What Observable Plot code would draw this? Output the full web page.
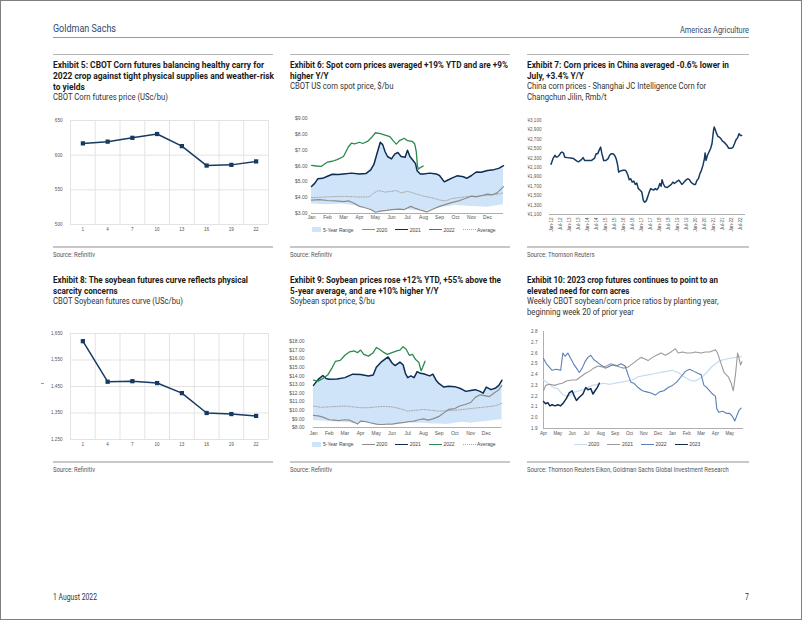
<!DOCTYPE html>
<html><head><meta charset="utf-8">
<script src="https://cdn.jsdelivr.net/npm/d3@7"></script>
<script src="https://cdn.jsdelivr.net/npm/@observablehq/plot@0.6"></script>
<style>
body{margin:0;width:802px;height:620px;position:relative;overflow:hidden;background:#fff;font-family:Roboto,"Liberation Sans",sans-serif;}
.frame{position:absolute;left:0;top:0;width:800px;height:618px;border:1px solid #7f7f7f;}
.abs{position:absolute;}
.inner{display:inline-block;transform-origin:0 0;}
.inner > div{white-space:nowrap;}
.title{font-weight:bold;font-size:9.6px;line-height:11.2px;color:#1b1b1b;}
.sub{font-weight:normal;font-size:9px;line-height:11.2px;color:#333;}
.src{font-size:7px;line-height:9px;color:#555;}
.rule{position:absolute;height:2px;background:#c8c8c8;}
.legend{position:absolute;display:flex;align-items:center;justify-content:center;font-family:"Liberation Sans",Arial,sans-serif;font-size:5px;color:#444;white-space:nowrap;height:8px;}
.legend .it{display:flex;align-items:center;margin:0 4px;}
.legend .sw{display:inline-block;width:13px;margin-right:1.5px;}
</style></head>
<body>
<div class="frame"></div>
<div id="page"></div>
<script>
// ---------------- DATA ----------------
const headerLeft = "Goldman Sachs";
const headerRight = "Americas Agriculture";
const footerLeft = "1 August 2022";
const footerRight = "7";

// Exhibit 5 & 8: futures curves (contract number)
const futTicks = ["1","4","7","10","13","16","19","22"];
const cornFutures = [617, 619.5, 625, 630.5, 613, 585, 586, 591];
const soyFutures = [1621, 1468, 1470, 1463, 1425, 1350, 1346, 1339];

// Exhibit 6: CBOT US corn spot price ($/bu), x = month offset from Jan 1
const monthTicksJan = ["Jan","Feb","Mar","Apr","May","Jun","Jul","Aug","Sep","Oct","Nov","Dec"];
const corn2020 = [[0,3.85],[0.5,3.88],[1.0,3.82],[1.5,3.8],[2.0,3.75],[2.3,3.8],[2.6,3.68],[3.0,3.45],[3.3,3.38],[3.7,3.25],[4.0,3.08],[4.3,3.15],[4.7,3.2],[5.0,3.25],[5.5,3.28],[5.8,3.25],[6.2,3.45],[6.5,3.32],[6.8,3.22],[7.2,3.1],[7.6,3.28],[8.0,3.45],[8.4,3.58],[8.8,3.7],[9.2,3.8],[9.6,3.95],[10.0,4.1],[10.3,4.05],[10.7,4.15],[11.0,4.22],[11.3,4.18],[11.6,4.3],[12.0,4.7]];
const corn2021 = [[0,4.71],[0.2,4.9],[0.4,5.2],[0.7,5.22],[1.0,5.35],[1.3,5.48],[1.7,5.47],[2.0,5.5],[2.5,5.55],[3.0,5.5],[3.4,5.52],[3.7,5.75],[3.9,6.1],[4.1,6.8],[4.3,7.5],[4.45,7.35],[4.6,6.9],[4.75,6.6],[5.0,6.45],[5.2,6.75],[5.4,6.85],[5.6,6.6],[5.85,6.55],[6.0,7.0],[6.15,6.6],[6.35,6.35],[6.5,6.15],[6.6,5.7],[6.8,5.5],[7.0,5.5],[7.4,5.55],[7.8,5.5],[8.0,5.4],[8.3,5.0],[8.5,5.1],[8.8,5.25],[9.1,5.38],[9.5,5.32],[9.7,5.22],[10.0,5.4],[10.3,5.62],[10.6,5.6],[11.0,5.72],[11.4,5.77],[11.7,5.85],[12.0,6.02]];
const corn2022 = [[0,6.04],[0.3,6.0],[0.6,5.97],[1.0,6.25],[1.3,6.3],[1.6,6.4],[2.0,6.6],[2.3,7.2],[2.5,7.45],[2.7,7.4],[3.0,7.5],[3.2,7.42],[3.5,7.55],[3.8,7.85],[4.0,8.1],[4.3,8.05],[4.6,7.95],[4.9,7.85],[5.1,7.6],[5.3,7.38],[5.5,7.6],[5.8,7.75],[6.0,7.6],[6.3,7.55],[6.45,7.4],[6.55,6.9],[6.62,6.0],[6.68,5.8],[6.8,5.9],[6.98,6.0]];
const cornAvg = [[0,4.0],[1,4.05],[2,4.08],[3,4.04],[3.6,4.05],[3.9,4.3],[4.2,4.45],[4.6,4.35],[5.0,4.4],[5.3,4.45],[5.6,4.3],[6.0,4.4],[6.5,4.25],[7,4.1],[7.5,4.0],[8,3.85],[8.4,3.8],[8.8,3.95],[9.2,4.0],[9.6,4.05],[10,4.08],[10.5,4.1],[11,4.15],[11.5,4.2],[12,4.3]];
const corn5yLow = [[0,3.6],[1,3.55],[2,3.6],[3,3.45],[3.6,3.3],[4,3.08],[5,3.22],[6,3.25],[7,3.12],[7.5,3.25],[8.2,3.4],[9,3.5],[10,3.45],[11,3.4],[12,3.55]];
const corn5yHigh = corn2021; // upper edge of the 5-year range coincides with 2021

// Exhibit 7: China corn price (Rmb/t)
const chinaTicks = ["Jan-12","Jul-12","Jan-13","Jul-13","Jan-14","Jul-14","Jan-15","Jul-15","Jan-16","Jul-16","Jan-17","Jul-17","Jan-18","Jul-18","Jan-19","Jul-19","Jan-20","Jul-20","Jan-21","Jul-21","Jan-22","Jul-22"];
const chinaYTicks = [1100,1300,1500,1700,1900,2100,2300,2500,2700,2900,3100];
const chinaCorn = [["2012-01-01",2170],["2012-02-15",2300],["2012-03-20",2360],["2012-04-15",2320],["2012-05-15",2330],["2012-06-15",2360],["2012-07-15",2410],["2012-08-10",2430],["2012-09-10",2405],["2012-10-05",2320],["2012-12-01",2310],["2013-02-01",2300],["2013-04-01",2290],["2013-06-01",2240],["2013-07-10",2220],["2013-09-01",2260],["2013-10-10",2310],["2013-11-10",2250],["2014-01-01",2250],["2014-04-01",2250],["2014-06-01",2300],["2014-07-01",2390],["2014-08-01",2390],["2014-09-01",2470],["2014-10-01",2535],["2014-10-25",2400],["2014-12-01",2250],["2015-01-15",2250],["2015-03-01",2290],["2015-04-01",2360],["2015-05-01",2390],["2015-06-10",2390],["2015-07-10",2360],["2015-08-10",2290],["2015-09-05",2180],["2015-10-01",2000],["2015-11-01",2025],["2016-01-01",2040],["2016-02-15",2040],["2016-03-10",2000],["2016-04-05",1935],["2016-05-01",1840],["2016-06-01",1860],["2016-07-01",1790],["2016-08-01",1810],["2016-09-01",1740],["2016-10-01",1770],["2016-11-01",1650],["2016-12-10",1615],["2017-01-10",1580],["2017-02-10",1400],["2017-03-10",1360],["2017-04-10",1390],["2017-05-10",1475],["2017-06-10",1580],["2017-07-10",1650],["2017-08-10",1630],["2017-09-10",1620],["2017-10-10",1650],["2017-11-10",1625],["2017-12-10",1665],["2018-01-10",1760],["2018-02-05",1700],["2018-02-25",1840],["2018-03-20",1760],["2018-04-20",1690],["2018-06-10",1675],["2018-07-10",1700],["2018-09-01",1740],["2018-10-01",1790],["2018-11-01",1760],["2019-01-01",1810],["2019-02-01",1830],["2019-03-01",1790],["2019-04-01",1740],["2019-05-01",1770],["2019-06-01",1810],["2019-07-01",1840],["2019-08-01",1860],["2019-09-01",1840],["2019-10-01",1790],["2019-11-01",1760],["2019-12-01",1740],["2020-01-01",1740],["2020-02-01",1830],["2020-03-01",1860],["2020-04-01",1970],["2020-05-01",2040],["2020-06-01",2145],["2020-07-01",2290],["2020-07-15",2410],["2020-08-01",2250],["2020-09-01",2360],["2020-10-01",2430],["2020-11-01",2500],["2020-12-01",2605],["2021-01-01",2890],["2021-01-15",2960],["2021-02-10",2890],["2021-03-05",2820],["2021-04-01",2760],["2021-05-01",2745],["2021-06-01",2710],["2021-07-01",2660],["2021-08-01",2640],["2021-09-01",2605],["2021-10-01",2570],["2021-11-01",2510],["2021-12-01",2510],["2022-01-01",2510],["2022-02-01",2535],["2022-03-01",2605],["2022-04-01",2690],["2022-05-01",2730],["2022-06-01",2820],["2022-07-01",2780],["2022-07-25",2780]];

// Exhibit 9: Soybean spot price ($/bu)
const soy2020 = [[0,9.4],[0.3,9.35],[0.6,9.2],[1.0,8.9],[1.3,8.85],[1.6,8.8],[2.0,8.9],[2.3,8.85],[2.6,8.6],[2.8,8.4],[3.0,8.75],[3.3,8.7],[3.6,8.55],[4.0,8.4],[4.3,8.35],[4.7,8.4],[5.0,8.4],[5.4,8.5],[5.8,8.6],[6.1,8.7],[6.4,8.75],[6.7,8.9],[7.0,9.0],[7.3,8.85],[7.6,9.0],[8.0,9.3],[8.3,9.7],[8.6,10.1],[9.0,10.2],[9.3,10.5],[9.7,10.7],[10.0,10.9],[10.3,11.5],[10.6,11.8],[10.9,11.7],[11.2,11.6],[11.5,12.0],[11.8,12.4],[12.0,12.9]];
const soy2021 = [[0,12.9],[0.3,13.6],[0.6,14.05],[0.8,13.7],[1.0,13.6],[1.5,13.65],[2.0,13.8],[2.5,14.2],[3.0,14.15],[3.5,14.0],[3.8,14.1],[4.0,15.0],[4.3,15.6],[4.6,16.0],[4.75,16.2],[5.0,15.5],[5.2,15.2],[5.5,15.6],[5.7,15.3],[5.85,14.3],[6.0,13.8],[6.2,14.0],[6.4,13.8],[6.6,14.5],[6.8,14.3],[7.0,14.25],[7.4,14.0],[7.6,14.2],[7.8,13.5],[8.0,13.1],[8.3,12.7],[8.6,12.8],[9.0,12.75],[9.4,12.5],[9.7,12.2],[10.0,12.3],[10.3,12.4],[10.6,12.2],[10.8,12.0],[11.0,12.7],[11.3,12.4],[11.6,12.6],[11.8,12.9],[12.0,13.5]];
const soy2022 = [[0,13.5],[0.3,13.4],[0.6,13.7],[0.9,14.1],[1.2,15.0],[1.4,15.7],[1.7,15.8],[2.0,16.4],[2.3,16.8],[2.6,16.9],[2.8,16.7],[3.0,17.0],[3.2,16.5],[3.5,16.3],[3.8,16.7],[4.0,17.3],[4.2,17.1],[4.5,16.7],[4.7,16.5],[5.0,16.7],[5.3,16.9],[5.5,17.0],[5.7,17.4],[5.9,17.1],[6.1,16.4],[6.3,16.5],[6.5,15.9],[6.7,15.6],[6.85,14.6],[6.95,15.0],[7.1,15.7]];
const soyAvg = [[0,10.5],[0.5,10.35],[1.0,10.4],[1.5,10.45],[2.0,10.5],[2.5,10.4],[3.0,10.3],[3.5,10.3],[4.0,10.4],[4.5,10.45],[5.0,10.4],[5.5,10.2],[6.0,9.9],[6.5,10.0],[7.0,10.1],[7.5,10.0],[8.0,9.9],[8.5,9.95],[9.0,10.0],[9.5,10.1],[10.0,10.2],[10.5,10.3],[11.0,10.4],[11.5,10.5],[12.0,10.8]];
const soy5yLow = [[0,8.8],[1,8.7],[2,8.6],[2.8,8.4],[3,8.6],[4,8.35],[5,8.4],[6,8.5],[7,8.5],[7.5,8.4],[8,8.4],[8.5,8.35],[9,8.5],[9.5,8.6],[10,8.5],[10.5,8.6],[11,8.7],[11.5,8.8],[12,8.9]];
const soy5yHigh = soy2021;

// Exhibit 10: soybean/corn ratio, x = month offset from Apr 1 of prior year
const monthTicksApr = ["Apr","May","Jun","Jul","Aug","Sep","Oct","Nov","Dec","Jan","Feb","Mar","Apr","May"];
const ratio2020 = [[0,2.35],[0.3,2.32],[0.7,2.28],[1.0,2.27],[1.3,2.22],[1.6,2.2],[1.9,2.21],[2.2,2.24],[2.5,2.25],[2.8,2.26],[3.1,2.28],[3.4,2.3],[3.8,2.31],[4.2,2.32],[4.6,2.31],[5.0,2.32],[5.4,2.33],[5.8,2.34],[6.2,2.35],[6.6,2.38],[7.0,2.39],[7.4,2.4],[7.8,2.41],[8.2,2.42],[8.6,2.43],[9.0,2.44],[9.4,2.42],[9.8,2.38],[10.2,2.35],[10.6,2.34],[11.0,2.37],[11.4,2.42],[11.8,2.48],[12.2,2.52],[12.6,2.54],[13.0,2.55],[13.4,2.56],[13.8,2.57]];
const ratio2021 = [[0,2.25],[0.15,2.3],[0.4,2.31],[0.8,2.3],[1.0,2.31],[1.3,2.32],[1.6,2.34],[2.0,2.35],[2.3,2.35],[2.6,2.38],[2.9,2.41],[3.2,2.43],[3.5,2.46],[3.8,2.48],[4.1,2.47],[4.4,2.48],[4.7,2.5],[5.0,2.49],[5.3,2.47],[5.6,2.46],[5.9,2.47],[6.2,2.5],[6.5,2.53],[6.8,2.56],[7.0,2.55],[7.3,2.53],[7.6,2.56],[7.9,2.58],[8.2,2.6],[8.5,2.58],[8.8,2.6],[9.0,2.62],[9.2,2.64],[9.4,2.6],[9.7,2.61],[10.0,2.6],[10.3,2.6],[10.6,2.61],[11.0,2.6],[11.3,2.61],[11.6,2.61],[12.0,2.63],[12.15,2.6],[12.35,2.52],[12.6,2.42],[12.9,2.38],[13.1,2.32],[13.25,2.25],[13.4,2.4],[13.55,2.6],[13.65,2.55],[13.75,2.49],[13.85,2.52]];
const ratio2022 = [[0,2.55],[0.2,2.5],[0.4,2.47],[0.6,2.44],[0.9,2.45],[1.2,2.44],[1.35,2.6],[1.5,2.57],[1.7,2.6],[1.9,2.55],[2.1,2.5],[2.3,2.46],[2.5,2.42],[2.7,2.46],[2.9,2.52],[3.1,2.56],[3.3,2.58],[3.5,2.54],[3.7,2.52],[3.9,2.5],[4.1,2.48],[4.3,2.46],[4.5,2.47],[4.8,2.49],[5.1,2.48],[5.4,2.5],[5.7,2.48],[5.9,2.4],[6.1,2.33],[6.3,2.32],[6.6,2.28],[6.9,2.25],[7.2,2.24],[7.5,2.23],[7.8,2.21],[8.1,2.24],[8.4,2.25],[8.7,2.28],[9.0,2.3],[9.3,2.33],[9.6,2.38],[9.9,2.43],[10.2,2.45],[10.5,2.43],[10.8,2.41],[11.0,2.4],[11.2,2.3],[11.4,2.28],[11.6,2.25],[11.8,2.22],[12.0,2.2],[12.1,2.08],[12.25,2.05],[12.5,2.06],[12.8,2.04],[13.0,2.04],[13.2,2.01],[13.35,1.97],[13.5,2.02],[13.65,2.07],[13.8,2.09]];
const ratio2023 = [[0,2.15],[0.15,2.13],[0.3,2.14],[0.45,2.11],[0.6,2.12],[0.8,2.11],[1.0,2.12],[1.2,2.11],[1.4,2.14],[1.6,2.18],[1.8,2.23],[2.0,2.25],[2.15,2.2],[2.3,2.16],[2.5,2.19],[2.75,2.22],[2.95,2.28],[3.1,2.26],[3.3,2.27],[3.45,2.22],[3.6,2.25],[3.75,2.28],[3.9,2.32]];

// Texts
const titles = [
  {col:0,row:0,lines:["Exhibit 5: CBOT Corn futures balancing healthy carry for","2022 crop against tight physical supplies and weather-risk","to yields"],sub:["CBOT Corn futures price (USc/bu)"],src:"Source: Refinitiv"},
  {col:1,row:0,lines:["Exhibit 6: Spot corn prices averaged +19% YTD and are +9%","higher Y/Y"],sub:["CBOT US corn spot price, $/bu"],src:"Source: Refinitiv"},
  {col:2,row:0,lines:["Exhibit 7: Corn prices in China averaged -0.6% lower in","July, +3.4% Y/Y"],sub:["China corn prices - Shanghai JC Intelligence Corn for","Changchun Jilin, Rmb/t"],src:"Source: Thomson Reuters"},
  {col:0,row:1,lines:["Exhibit 8: The soybean futures curve reflects physical","scarcity concerns"],sub:["CBOT Soybean futures curve (USc/bu)"],src:"Source: Refinitiv"},
  {col:1,row:1,lines:["Exhibit 9: Soybean prices rose +12% YTD, +55% above the","5-year average, and are +10% higher Y/Y"],sub:["Soybean spot price, $/bu"],src:"Source: Refinitiv"},
  {col:2,row:1,lines:["Exhibit 10: 2023 crop futures continues to point to an","elevated need for corn acres"],sub:["Weekly CBOT soybean/corn price ratios by planting year,","beginning week 20 of prior year"],src:"Source: Thomson Reuters Eikon, Goldman Sachs Global Investment Research"}
];
const spotLegend = [["5-Year Range","area","#cfe4f8"],["2020","line","#8c8c8c"],["2021","line","#0f2d52"],["2022","line","#2a8a4e"],["Average","dot","#a8a8a8"]];
const ratioLegend = [["2020","line","#c6dbf0"],["2021","line","#9a9a9a"],["2022","line","#5b80b7"],["2023","line","#0f2d52"]];

// ---------------- LAYOUT ----------------
const page = document.getElementById("page");
const colX = [[53,273],[290,510],[527,749]];
const rowTitleTop = [58.8, 273.7];
const rowSrcLine = [246, 461];
const LH = 11.2;

function addDiv(cls, css, html){ const d=document.createElement("div"); d.className=cls; d.style.cssText=css; if(html!=null) d.innerHTML=html; page.appendChild(d); return d; }

// text block, later compressed horizontally (condensed look)
function textBlock(left, top, lines, cls, extraCss){
  const outer = addDiv("abs "+cls, `left:${left}px;top:${top}px;` + (extraCss||""));
  const inner = document.createElement("div"); inner.className="inner";
  lines.forEach(l=>{ const r=document.createElement("div"); const s=document.createElement("span"); s.textContent=l; r.appendChild(s); inner.appendChild(r); });
  outer.appendChild(inner);
  return {outer, inner, w: inner.firstChild.firstChild.getBoundingClientRect().width};
}
function squeeze(b, k){ b.inner.style.transform=`scaleX(${k})`; }

// header / footer
const hL = textBlock(53, 22, [headerLeft], "", "font-size:11px;color:#2f4b70;line-height:14px;");
squeeze(hL, 63/hL.w);
const hR = textBlock(0, 23.5, [headerRight], "", "font-size:9.2px;color:#2f4b70;line-height:12px;");
squeeze(hR, 69/hR.w); hR.outer.style.left = (749 - 69) + "px";
const fL = textBlock(53, 591.5, [footerLeft], "", "font-size:8.3px;color:#333;line-height:11px;");
const kF = 44/fL.w; squeeze(fL, kF);
const fR = textBlock(0, 591.5, [footerRight], "", "font-size:8.3px;color:#333;line-height:11px;");
squeeze(fR, kF); fR.outer.style.left = (749 - fR.w*kF) + "px";
addDiv("abs", "left:53px;top:37px;width:696px;height:1px;background:#9a9a9a;");
colX.forEach(([a,b])=>addDiv("abs", `left:${a}px;top:53.5px;width:${b-a}px;height:1.5px;background:#b5b5b5;`));
addDiv("abs", "left:41px;top:383px;width:3px;height:1px;background:#9a9a9a;");

// titles, subtitles and sources
const titleTargets = [211, 218, 202, 195, 211, 191];
let subK = null, srcK = null;
titles.forEach((t,i)=>{
  const [a,b]=colX[t.col];
  const top = rowTitleTop[t.row];
  const tb = textBlock(a, top, t.lines, "title");
  squeeze(tb, titleTargets[i]/tb.w);
  const sb = textBlock(a, top + t.lines.length*LH, t.sub, "sub");
  if(subK===null) subK = 115/sb.w;
  squeeze(sb, subK);
  addDiv("rule", `left:${a}px;top:${rowSrcLine[t.row]}px;width:${b-a}px;`);
  const rb = textBlock(a, rowSrcLine[t.row]+4.5, [t.src], "src");
  if(srcK===null) srcK = 42/rb.w;
  squeeze(rb, srcK);
});

function legend(cx, cy, items){
  const d = addDiv("legend", `left:${cx-120}px;width:240px;top:${cy-4}px;`);
  items.forEach(([label,type,color])=>{
    const it=document.createElement("span"); it.className="it";
    const sw=document.createElement("span"); sw.className="sw";
    if(type==="area"){ sw.style.cssText=`width:9px;height:5px;background:${color};`; }
    else if(type==="line"){ sw.style.cssText=`height:0;border-top:1.3px solid ${color};`; }
    else { sw.style.cssText=`height:0;border-top:1px dotted ${color};`; }
    it.appendChild(sw); it.appendChild(document.createTextNode(label)); d.appendChild(it);
  });
}

function place(left, top, svg){ const d=addDiv("abs", `left:${left}px;top:${top}px;line-height:0;`); d.appendChild(svg); }

const baseStyle = (fs)=>({fontFamily:"'Liberation Sans', Arial, sans-serif", fontSize:fs, color:"#555", background:"transparent", overflow:"visible"});
const navy = "#173a63";

// ---------- Exhibit 5 & 8 ----------
function futuresChart(values, yTicks, height){
  const idx = values.map((d,i)=>i);
  return Plot.plot({
    width:220, height, marginTop:10, marginBottom:12, marginLeft:17, marginRight:5,
    style: baseStyle("4.6px"),
    x:{type:"linear", domain:[-0.5, futTicks.length-0.5], ticks: idx, tickFormat:i=>futTicks[i], tickSize:0, tickPadding:3, label:null},
    y:{domain:[yTicks[0], yTicks[yTicks.length-1]], ticks:yTicks, tickFormat:d=>d3.format(",")(d), tickSize:0, tickPadding:8, label:null},
    marks:[
      Plot.gridX(d3.range(futTicks.length+1).map(i=>i-0.5), {stroke:"#e3e3e3", strokeOpacity:1}),
      Plot.gridY(yTicks, {stroke:"#e3e3e3", strokeOpacity:1}),
      Plot.line(values, {x:(d,i)=>i, y:d=>d, stroke:navy, strokeWidth:1.5}),
      Plot.dot(values, {x:(d,i)=>i, y:d=>d, symbol:"square", fill:navy, r:2.4})
    ]
  });
}
place(53, 110, futuresChart(cornFutures, [500,550,600,650], 126));
place(53, 323, futuresChart(soyFutures, [1250,1350,1450,1550,1650], 128));

// ---------- Exhibit 6 & 9 ----------
function spotChart(cfg){
  const {lo, hi, s2020, s2021, s2022, avg, yMin, yMax, height, mT, mB, mL, mR, pad} = cfg;
  const yT = d3.range(yMin, yMax+0.001, 1);
  return Plot.plot({
    width:220, height, marginTop:mT, marginBottom:mB, marginLeft:mL, marginRight:mR,
    style: baseStyle("5px"),
    x:{type:"linear", domain:[0,12], ticks:d3.range(12), tickFormat:i=>monthTicksJan[i], tickSize:0, tickPadding:pad, label:null},
    y:{domain:[yMin,yMax], ticks:yT, tickFormat:d=>"$"+d.toFixed(2), tickSize:0, tickPadding:cfg.ypad, label:null},
    marks:[
      Plot.areaY(hi, {x:d=>d[0], y1:yMin, y2:d=>d[1], fill:"#cfe4f8"}),
      Plot.areaY(lo, {x:d=>d[0], y1:yMin, y2:d=>d[1], fill:"#ffffff"}),
      Plot.ruleY([yMin], {stroke:"#9a9a9a", strokeWidth:0.8}),
      Plot.line(avg, {x:d=>d[0], y:d=>d[1], stroke:"#a8a8a8", strokeWidth:1, strokeDasharray:"1.2,1.4"}),
      Plot.line(s2020, {x:d=>d[0], y:d=>d[1], stroke:"#8c8c8c", strokeWidth:1.2}),
      Plot.line(s2021, {x:d=>d[0], y:d=>d[1], stroke:"#0f2d52", strokeWidth:1.5}),
      Plot.line(s2022, {x:d=>d[0], y:d=>d[1], stroke:"#2a8a4e", strokeWidth:1.3})
    ]
  });
}
place(290, 110, spotChart({lo:corn5yLow, hi:corn5yHigh, s2020:corn2020, s2021:corn2021, s2022:corn2022, avg:cornAvg, yMin:3, yMax:9, height:113, mT:8, mB:10, mL:21, mR:7, pad:2, ypad:4}));
legend(404, 229.7, spotLegend);
place(290, 330, spotChart({lo:soy5yLow, hi:soy5yHigh, s2020:soy2020, s2021:soy2021, s2022:soy2022, avg:soyAvg, yMin:8, yMax:18, height:107, mT:11, mB:10, mL:23, mR:8.5, pad:4, ypad:9}));
legend(404, 444, spotLegend);

// ---------- Exhibit 7 ----------
{
  const parseT = d3.utcParse("%b-%y");
  const data = chinaCorn.map(([d,v])=>({date:d3.isoParse(d), v}));
  place(527, 110, Plot.plot({
    width:222, height:126, marginTop:10, marginBottom:22, marginLeft:22, marginRight:4,
    style: baseStyle("4.6px"),
    x:{type:"utc", domain:[d3.isoParse("2011-12-01"), d3.isoParse("2022-10-10")], ticks:chinaTicks.map(parseT), tickFormat:d3.utcFormat("%b-%y"), tickRotate:-90, tickSize:0, tickPadding:3, label:null},
    y:{domain:[1100,3100], ticks:chinaYTicks, tickFormat:d=>"¥"+d3.format(",")(d), tickSize:0, tickPadding:8, label:null},
    marks:[
      Plot.ruleY([1100], {stroke:"#9a9a9a", strokeWidth:0.8}),
      Plot.line(data, {x:"date", y:"v", stroke:navy, strokeWidth:1.5})
    ]
  }));
}

// ---------- Exhibit 10 ----------
place(527, 322, Plot.plot({
  width:222, height:116, marginTop:9, marginBottom:10, marginLeft:16, marginRight:6,
  style: baseStyle("4.6px"),
  x:{type:"linear", domain:[0,13.96], ticks:d3.range(monthTicksApr.length), tickFormat:i=>monthTicksApr[i], tickSize:0, tickPadding:3.5, label:null},
  y:{domain:[1.9,2.8], ticks:d3.range(19,29).map(d=>d/10), tickFormat:d=>d.toFixed(1), tickSize:0, tickPadding:6, label:null},
  marks:[
    Plot.ruleY([1.9], {stroke:"#9a9a9a", strokeWidth:0.8}),
    Plot.ruleX([0], {stroke:"#9a9a9a", strokeWidth:0.8}),
    Plot.line(ratio2020, {x:d=>d[0], y:d=>d[1], stroke:"#c6dbf0", strokeWidth:1.2}),
    Plot.line(ratio2021, {x:d=>d[0], y:d=>d[1], stroke:"#9a9a9a", strokeWidth:1.1}),
    Plot.line(ratio2022, {x:d=>d[0], y:d=>d[1], stroke:"#5b80b7", strokeWidth:1.1}),
    Plot.line(ratio2023, {x:d=>d[0], y:d=>d[1], stroke:"#0f2d52", strokeWidth:1.5})
  ]
}));
legend(637, 444, ratioLegend);
</script>
</body></html>
